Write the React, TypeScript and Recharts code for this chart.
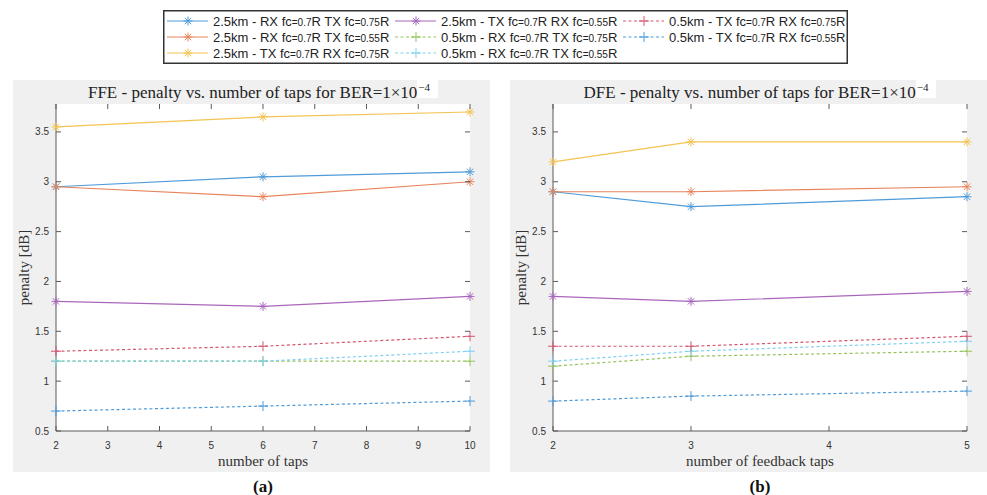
import React from "react";
import { LineChart, Line, XAxis, YAxis, CartesianGrid } from "recharts";

// x positions
const ffeTaps = [2, 6, 10];
const dfeTaps = [2, 3, 5];
const ffeTicks = [2, 3, 4, 5, 6, 7, 8, 9, 10];
const dfeTicks = [2, 3, 4, 5];
const penaltyTicks = [0.5, 1, 1.5, 2, 2.5, 3, 3.5];

// legend order (column-major as in the figure)
const seriesNames = [
  ["2.5km - RX ", "0.7", " TX ", "0.75"],
  ["2.5km - RX ", "0.7", " TX ", "0.55"],
  ["2.5km - TX ", "0.7", " RX ", "0.75"],
  ["2.5km - TX ", "0.7", " RX ", "0.55"],
  ["0.5km - RX ", "0.7", " TX ", "0.75"],
  ["0.5km - RX ", "0.7", " TX ", "0.55"],
  ["0.5km - TX ", "0.7", " RX ", "0.75"],
  ["0.5km - TX ", "0.7", " RX ", "0.55"],
];
const seriesColors = ["#4f9bd9", "#e8845c", "#f4c352", "#a866bb", "#94c35a", "#7fd0f2", "#d4566f", "#4f9bd9"];
const seriesDashed = [false, false, false, false, true, true, true, true];

// FFE penalty [dB] per series, at taps 2, 6, 10
const ffeLong_RxTx075 = [2.95, 3.05, 3.1];
const ffeLong_RxTx055 = [2.95, 2.85, 3.0];
const ffeLong_TxRx075 = [3.55, 3.65, 3.7];
const ffeLong_TxRx055 = [1.8, 1.75, 1.85];
const ffeShort_RxTx075 = [1.2, 1.2, 1.2];
const ffeShort_RxTx055 = [1.2, 1.2, 1.3];
const ffeShort_TxRx075 = [1.3, 1.35, 1.45];
const ffeShort_TxRx055 = [0.7, 0.75, 0.8];

// DFE penalty [dB] per series, at feedback taps 2, 3, 5
const dfeLong_RxTx075 = [2.9, 2.75, 2.85];
const dfeLong_RxTx055 = [2.9, 2.9, 2.95];
const dfeLong_TxRx075 = [3.2, 3.4, 3.4];
const dfeLong_TxRx055 = [1.85, 1.8, 1.9];
const dfeShort_RxTx075 = [1.15, 1.25, 1.3];
const dfeShort_RxTx055 = [1.2, 1.3, 1.4];
const dfeShort_TxRx075 = [1.35, 1.35, 1.45];
const dfeShort_TxRx055 = [0.8, 0.85, 0.9];

const ffeSeries = [ffeLong_RxTx075, ffeLong_RxTx055, ffeLong_TxRx075, ffeLong_TxRx055, ffeShort_RxTx075, ffeShort_RxTx055, ffeShort_TxRx075, ffeShort_TxRx055];
const dfeSeries = [dfeLong_RxTx075, dfeLong_RxTx055, dfeLong_TxRx075, dfeLong_TxRx055, dfeShort_RxTx075, dfeShort_RxTx055, dfeShort_TxRx075, dfeShort_TxRx055];

const toRows = (xs: number[], series: number[][]) =>
  xs.map((x, i) => {
    const row: any = { x };
    series.forEach((s, k) => (row["s" + k] = s[i]));
    return row;
  });

const ffeData = toRows(ffeTaps, ffeSeries);
const dfeData = toRows(dfeTaps, dfeSeries);

const W = 477;
const H = 392;
const M = { top: 24, right: 20, left: 0, bottom: 0 };
const Y_W = 43;
const X_H = 41;
const PLOT_TOP = M.top;
const PLOT_BOTTOM = H - X_H;
const PLOT_LEFT = Y_W;
const PLOT_RIGHT = W - M.right;
const AXIS = "#5a5a5a";
const SERIF = "'Liberation Serif', 'DejaVu Serif', serif";
const SANS = "'Liberation Sans', Arial, sans-serif";

function Asterisk({ cx, cy, color }: any) {
  const r = 4.5;
  const d = r * 0.707;
  return (
    <g stroke={color} strokeWidth={1}>
      <line x1={cx - r} y1={cy} x2={cx + r} y2={cy} />
      <line x1={cx} y1={cy - r} x2={cx} y2={cy + r} />
      <line x1={cx - d} y1={cy - d} x2={cx + d} y2={cy + d} />
      <line x1={cx - d} y1={cy + d} x2={cx + d} y2={cy - d} />
    </g>
  );
}

function Plus({ cx, cy, color }: any) {
  const r = 5;
  return (
    <g stroke={color} strokeWidth={1}>
      <line x1={cx - r} y1={cy} x2={cx + r} y2={cy} />
      <line x1={cx} y1={cy - r} x2={cx} y2={cy + r} />
    </g>
  );
}

function XTick({ x, payload }: any) {
  return (
    <g>
      <line x1={x} x2={x} y1={PLOT_BOTTOM} y2={PLOT_BOTTOM - 5} stroke={AXIS} />
      <line x1={x} x2={x} y1={PLOT_TOP} y2={PLOT_TOP + 5} stroke={AXIS} />
      <text x={x} y={PLOT_BOTTOM + 18} textAnchor="middle" fontSize={10} fill="#333" fontFamily={SANS}>
        {payload.value}
      </text>
    </g>
  );
}

function YTick({ y, payload }: any) {
  return (
    <g>
      <line x1={PLOT_LEFT} x2={PLOT_LEFT + 5} y1={y} y2={y} stroke={AXIS} />
      <line x1={PLOT_RIGHT} x2={PLOT_RIGHT - 5} y1={y} y2={y} stroke={AXIS} />
      <text x={PLOT_LEFT - 7} y={y + 3.5} textAnchor="end" fontSize={10} fill="#333" fontFamily={SANS}>
        {payload.value}
      </text>
    </g>
  );
}

function Panel({ data, ticks, domain, title, xLabel, tag, left }: any) {
  const cx = left + (PLOT_LEFT + PLOT_RIGHT) / 2;
  return (
    <>
      <div style={{ position: "absolute", left, top: 80, width: W, height: H, background: "#f0f0f0" }}>
        <LineChart width={W} height={H} data={data} margin={M}>
          <CartesianGrid horizontal={false} vertical={false} fill="#ffffff" fillOpacity={1} />
          <XAxis dataKey="x" type="number" domain={domain} ticks={ticks} height={X_H} axisLine={{ stroke: AXIS }} tickLine={false} tick={<XTick />} interval={0} />
          <XAxis xAxisId="top" orientation="top" type="number" domain={domain} height={0} tick={false} tickLine={false} axisLine={{ stroke: AXIS }} />
          <YAxis type="number" domain={[0.5, 3.78]} ticks={penaltyTicks} width={Y_W} axisLine={{ stroke: AXIS }} tickLine={false} tick={<YTick />} interval={0} />
          <YAxis yAxisId="right" orientation="right" width={0} tick={false} tickLine={false} axisLine={{ stroke: AXIS }} />
          {seriesColors.map((c, k) => (
            <Line
              key={k}
              dataKey={"s" + k}
              stroke={c}
              strokeWidth={1.2}
              strokeDasharray={seriesDashed[k] ? "3 2.5" : undefined}
              isAnimationActive={false}
              dot={(p: any) =>
                seriesDashed[k] ? <Plus key={p.index} cx={p.cx} cy={p.cy} color={c} /> : <Asterisk key={p.index} cx={p.cx} cy={p.cy} color={c} />
              }
            />
          ))}
        </LineChart>
      </div>
      <div style={{ position: "absolute", left: cx - 240, width: 480, top: 83, textAlign: "center", fontFamily: SERIF, fontSize: 17, color: "#222", whiteSpace: "nowrap" }}>
        {title}
        <span style={{ position: "relative", top: -7, fontSize: 11, background: "#fff", padding: "1px 8px 5px 1px" }}>−4</span>
      </div>
      <div style={{ position: "absolute", left: cx - 150, width: 300, top: 453, textAlign: "center", fontFamily: SERIF, fontSize: 15, color: "#333" }}>
        {xLabel}
      </div>
      <div
        style={{ position: "absolute", left: left + 11 - 60, width: 120, top: 259, textAlign: "center", fontFamily: SERIF, fontSize: 15, color: "#333", transform: "rotate(-90deg)" }}
      >
        penalty [dB]
      </div>
      <div style={{ position: "absolute", left: cx - 50, width: 100, top: 477, textAlign: "center", fontFamily: SERIF, fontSize: 17, fontWeight: "bold", color: "#111" }}>
        {tag}
      </div>
    </>
  );
}

function LegendItem({ k }: any) {
  const [a, b, c, d] = seriesNames[k];
  const color = seriesColors[k];
  const col = Math.floor(k / 3);
  const row = k % 3;
  const sx = 4 + col * 228;
  const cy = 11 + row * 16;
  const small = { fontSize: 10 };
  return (
    <g>
      <line x1={sx} x2={sx + 41} y1={cy} y2={cy} stroke={color} strokeWidth={1.2} strokeDasharray={seriesDashed[k] ? "3 2.5" : undefined} />
      {seriesDashed[k] ? <Plus cx={sx + 21} cy={cy} color={color} /> : <Asterisk cx={sx + 21} cy={cy} color={color} />}
      <text x={sx + 46} y={cy + 4.5} fontSize={13} fill="#222" fontFamily={SANS}>
        {a}fc<tspan {...small}>={b}</tspan>R{c}fc<tspan {...small}>={d}</tspan>R
      </text>
    </g>
  );
}

export default function App() {
  return (
    <div style={{ position: "absolute", left: 0, top: 0, width: 987, height: 495, background: "#fff", overflow: "hidden" }}>
      <svg style={{ position: "absolute", left: 163, top: 10 }} width={685} height={54}>
        <rect x={0.75} y={0.75} width={683.5} height={52.5} fill="#fff" stroke="#333" strokeWidth={1.5} />
        {seriesNames.map((_, k) => (
          <LegendItem key={k} k={k} />
        ))}
      </svg>
      <Panel data={ffeData} ticks={ffeTicks} domain={[2, 10]} title="FFE - penalty vs. number of taps for BER=1×10" xLabel="number of taps" tag="(a)" left={13} />
      <Panel data={dfeData} ticks={dfeTicks} domain={[2, 5]} title="DFE - penalty vs. number of taps for BER=1×10" xLabel="number of feedback taps" tag="(b)" left={510} />
    </div>
  );
}
